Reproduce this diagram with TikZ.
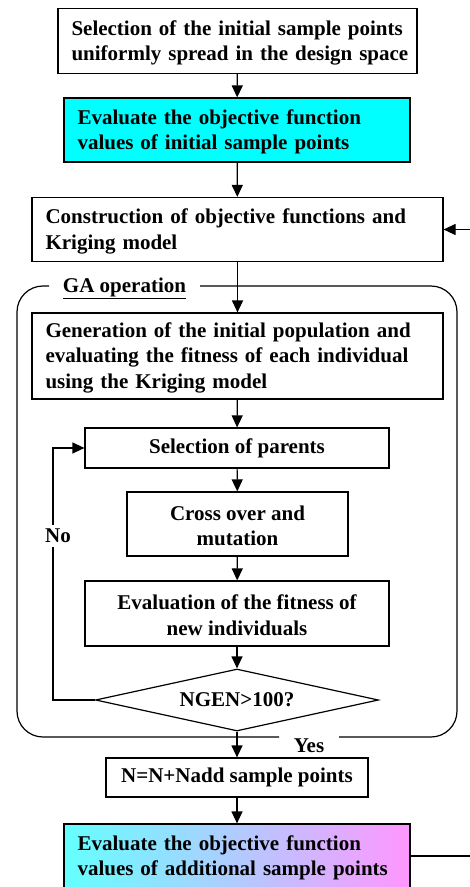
\documentclass[tikz,border=0pt]{standalone}
\usepackage{fontspec}
\setmainfont{Liberation Serif}
\usetikzlibrary{arrows.meta,shapes.geometric}
\definecolor{boxcyan}{RGB}{0,255,255}
\definecolor{gradl}{RGB}{100,255,255}
\definecolor{gradr}{RGB}{255,150,255}
\newcommand{\oneline}[1]{\mbox{#1}}
\newcommand{\topstrut}{\rule{0pt}{18.5pt}}
\begin{document}
\begin{tikzpicture}[x=1pt,y=-1pt,
  every node/.style={font=\fontsize{21}{25.5}\selectfont\bfseries},
  box/.style={draw,line width=1.2pt,rectangle,inner ysep=2pt},
  lbox/.style={box,align=left,inner xsep=13.5pt},
  cbox/.style={box,align=center,inner xsep=4pt},
  arr/.style={line width=1.2pt,-{Triangle[length=12pt,width=11pt]}},
  ln/.style={line width=1.2pt},
  gaborder/.style={line width=1.2pt,rounded corners=26pt}]
\useasboundingbox (0,0) rectangle (470,887);
\fill[white] (0,0) rectangle (470,887);
% GA border
\draw[gaborder] (200,286) -- (457,286) -- (457,737) -- (339,737);
\draw[gaborder] (279,737) -- (17,737) -- (17,286) -- (49,286);
\node[anchor=base] (ga) at (124.5,292) {\underline{GA operation}};
% boxes
\node[lbox,minimum width=359,minimum height=65,text width=332] (b1) at (237.5,41)
  {\oneline{\topstrut Selection of the initial sample points}\\\oneline{uniformly spread in the design space}};
\node[lbox,fill=boxcyan,minimum width=346,minimum height=64,text width=319] (b2) at (237,130)
  {\oneline{\topstrut Evaluate the objective function}\\\oneline{values of initial sample points}};
\node[lbox,minimum width=411,minimum height=64,text width=384] (b3) at (237.5,229.5)
  {\oneline{\topstrut Construction of objective functions and}\\\oneline{Kriging model}};
\node[lbox,minimum width=411,minimum height=86,text width=384] (b4) at (237.5,356)
  {\oneline{\topstrut Generation of the initial population and}\\\oneline{evaluating the fitness of each individual}\\\oneline{using the Kriging model}};
\node[cbox,minimum width=304,minimum height=40] (b5) at (237,448) {Selection of parents};
\node[cbox,minimum width=221,minimum height=64] (b6) at (237.5,524) {\topstrut Cross over and\\mutation};
\node[cbox,minimum width=304,minimum height=65] (b7) at (237,613.5) {\topstrut Evaluation of the fitness of\\new individuals};
\node[draw,line width=1.2pt,diamond,aspect=4.56,inner sep=0pt,minimum width=283,minimum height=62] (d) at (237,700) {NGEN>100?};
\node[cbox,minimum width=262,minimum height=39] (b8) at (237,777.5) {N=N+Nadd sample points};
\node[lbox,left color=gradl,right color=gradr,minimum width=346,minimum height=64,text width=319] (b9) at (237,856)
  {\oneline{\topstrut Evaluate the objective function}\\\oneline{values of additional sample points}};
% labels
\node[inner sep=1pt] (yes) at (309,746) {Yes};
% connectors
\draw[arr] (b1) -- (b2);
\draw[arr] (b2) -- (b3);
\draw[arr] (b3) -- (b4);
\draw[arr] (b4) -- (b5);
\draw[arr] (b5) -- (b6);
\draw[arr] (b6) -- (b7);
\draw[arr] (b7) -- (d);
\draw[arr] (d) -- (b8);
\draw[arr] (b8) -- (b9);
\coordinate (nl) at (53,448);
\draw[arr] (d.west) -| (nl) -- (b5.west);
\node[fill=white,inner xsep=2pt,inner ysep=4pt] (no) at (58,536) {No};
\coordinate (r1) at (471,229.5);
\coordinate (r2) at (471,856);
\draw[arr] (r1) -- (b3.east);
\draw[ln] (b9.east) -- (r2);
\end{tikzpicture}
\end{document}
